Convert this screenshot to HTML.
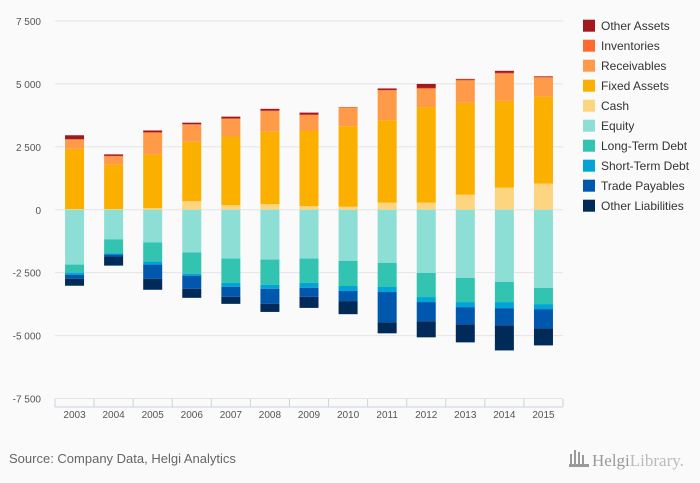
<!DOCTYPE html>
<html><head><meta charset="utf-8"><style>
html,body{margin:0;padding:0;background:#fafafa;}
svg{display:block;font-family:"Liberation Sans",sans-serif;}
</style></head><body>
<svg id="chart" width="700" height="483" viewBox="0 0 700 483">
<rect width="700" height="483" fill="#fafafa"/>
<g id="grid"></g>
<g id="ylabels"></g>
<g id="bars"></g>
<g id="xaxis"></g>
<g id="legend"></g>
<text x="9" y="463" font-size="13" fill="#666">Source: Company Data, Helgi Analytics</text>
<g>
<g fill="#9a9a9a"><rect x="570" y="454" width="2" height="10"/><rect x="574" y="450" width="2" height="14"/><rect x="578" y="452" width="2" height="12"/><rect x="582" y="455" width="2" height="9"/><rect x="569" y="464" width="20" height="3"/></g>
<text x="592" y="466" font-size="17" fill="#999" font-family="Liberation Serif, serif">Helgi<tspan fill="#bbb">Library.</tspan></text>
</g>
</svg>
<script>
const years = ["2003","2004","2005","2006","2007","2008","2009","2010","2011","2012","2013","2014","2015"];
const cash = [30,30,60,340,180,220,140,120,280,280,600,880,1040];
const fixedAssets = [2390,1760,2130,2360,2730,2880,3010,3200,3280,3800,3650,3450,3450];
const receivables = [360,330,860,680,690,810,600,720,1170,720,880,1070,750];
const inventories = [20,20,30,15,30,30,30,40,30,40,40,40,30];
const otherAssets = [160,60,70,65,70,70,80,0,60,160,30,80,30];
const equity = [-2180,-1180,-1300,-1700,-1940,-1980,-1940,-2030,-2110,-2510,-2710,-2870,-3110];
const longTermDebt = [-320,-560,-760,-840,-960,-1000,-960,-1000,-960,-960,-960,-800,-640];
const shortTermDebt = [-80,-40,-120,-80,-160,-160,-200,-200,-200,-200,-200,-240,-200];
const tradePayables = [-160,-80,-560,-520,-400,-600,-360,-400,-1200,-760,-680,-680,-760];
const otherLiabilities = [-280,-360,-440,-360,-280,-320,-440,-520,-440,-640,-720,-1000,-680];
const yTicks = [7500,5000,2500,0,-2500,-5000,-7500];
const yTickLabels = ["7 500","5 000","2 500","0","-2 500","-5 000","-7 500"];

const NS="http://www.w3.org/2000/svg";
const x0=55,x1=563,yTop=21,yBot=398.5,vMax=7500,vMin=-7500;
const band=(x1-x0)/years.length, barW=19;
function yScale(v){return yTop+(vMax-v)/(vMax-vMin)*(yBot-yTop);}
function xCenter(i){return x0+band*(i+0.5);}
function mk(tag,attrs,parent){const e=document.createElementNS(NS,tag);for(const k in attrs)e.setAttribute(k,attrs[k]);parent.appendChild(e);return e;}

const grid=document.getElementById('grid'),yl=document.getElementById('ylabels');
yTicks.forEach((t,i)=>{
  const l=mk('line',{x1:x0,x2:x1,y1:yScale(t),y2:yScale(t),stroke:'#e4e4e4','stroke-width':1},grid);
  
  
  const tx=mk('text',{x:41,y:yScale(t)+4,'text-anchor':'end','font-size':10,fill:'#555'},yl);
  tx.textContent=yTickLabels[i];
  
  
});

const pos=[["cash",cash,"#fdd580"],["fixed-assets",fixedAssets,"#fbb000"],["receivables",receivables,"#ff9a48"],["inventories",inventories,"#ff6a2f"],["other-assets",otherAssets,"#a3171e"]];
const neg=[["equity",equity,"#8dded4"],["long-term-debt",longTermDebt,"#32c4b0"],["short-term-debt",shortTermDebt,"#00a5d6"],["trade-payables",tradePayables,"#0057ae"],["other-liabilities",otherLiabilities,"#002b59"]];
const bars=document.getElementById('bars');
years.forEach((yr,i)=>{
  [pos,neg].forEach(group=>{
    let acc=0;
    group.forEach(([name,arr,col])=>{
      const v=arr[i];const a=acc,b=acc+v;acc=b;
      const yA=yScale(Math.max(a,b)),yB=yScale(Math.min(a,b));
      const r=mk('rect',{x:xCenter(i)-barW/2,y:yA,width:barW,height:Math.max(0,yB-yA),fill:col},bars);
      
      
    });
  });
});

const xa=document.getElementById('xaxis');
const axl=mk('line',{x1:x0,x2:x1,y1:407,y2:407,stroke:'#c8d3e3'},xa);


for(let i=0;i<=years.length;i++){
  const t=mk('line',{x1:x0+band*i,x2:x0+band*i,y1:399,y2:407,stroke:'#c8d3e3'},xa);
  
  
}
years.forEach((yr,i)=>{
  const t=mk('text',{x:xCenter(i),y:418,'text-anchor':'middle','font-size':10,fill:'#555'},xa);
  t.textContent=yr;
  
  
});

const legItems=[["Other Assets","#a3171e"],["Inventories","#ff6a2f"],["Receivables","#ff9a48"],["Fixed Assets","#fbb000"],["Cash","#fdd580"],["Equity","#8dded4"],["Long-Term Debt","#32c4b0"],["Short-Term Debt","#00a5d6"],["Trade Payables","#0057ae"],["Other Liabilities","#002b59"]];
const lg=document.getElementById('legend');
legItems.forEach(([lab,col],i)=>{
  const g=mk('g',{},lg);
  
  
  const cy=25.7+i*20;
  mk('rect',{x:583,y:cy-6,width:12,height:12,fill:col},g);
  const t=mk('text',{x:601,y:cy+4.5,'font-size':12,fill:'#333'},g);
  t.textContent=lab;
});
</script>
</body></html>
